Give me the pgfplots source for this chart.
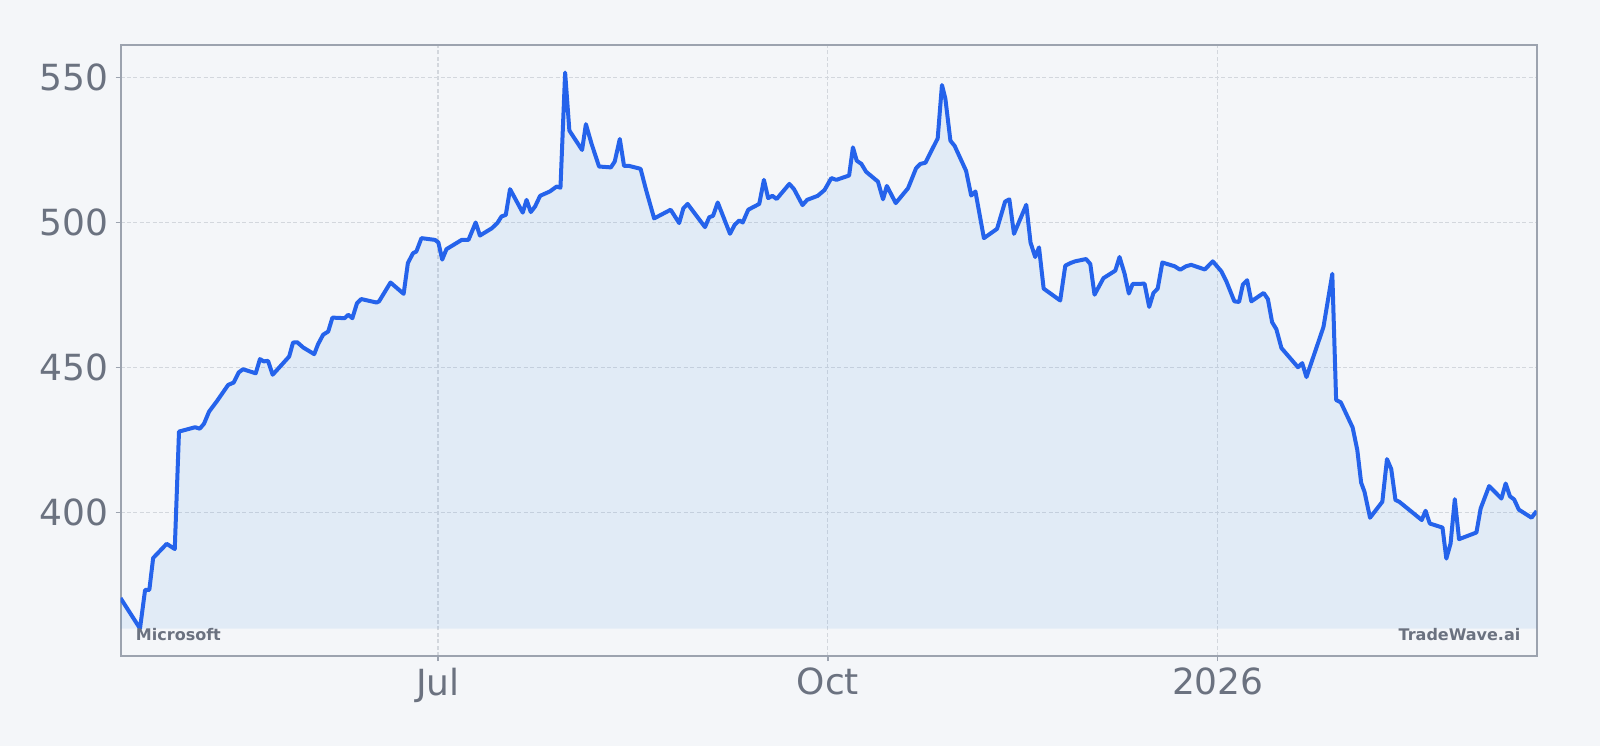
\documentclass[border=0pt]{standalone}
\usepackage{fontspec}
\setmainfont{DejaVu Sans}
\usepackage{pgfplots}
\usepackage{pgfplotstable}
\pgfplotsset{compat=1.18}
\definecolor{bg}{HTML}{F4F6F9}
\definecolor{linec}{HTML}{2563EB}
\definecolor{fillc}{HTML}{4092E5}
\definecolor{framec}{HTML}{9CA3AF}
\definecolor{gridc}{HTML}{D3D7DD}
\definecolor{tickc}{HTML}{6B7280}
\pgfplotstableread{
d v
-74.9 370.5
-70.3 360.0
-69.1 373.3
-68.1 373.3
-67.2 384.3
-64.0 389.2
-62.1 387.4
-61.1 427.9
-57.3 429.4
-56.2 428.9
-55.2 430.6
-54.0 434.8
-52.2 438.3
-49.5 444.0
-48.2 444.8
-47.0 448.3
-46.0 449.4
-43.0 448.0
-42.0 452.9
-41.1 452.1
-40.1 452.3
-39.0 447.5
-35.1 453.8
-34.2 458.6
-33.2 458.7
-31.8 456.9
-29.2 454.6
-28.3 458.0
-27.1 461.3
-25.9 462.4
-24.9 467.2
-22.0 467.0
-21.2 468.2
-20.2 467.0
-19.1 472.2
-18.1 473.6
-14.5 472.4
-13.9 472.8
-11.2 479.3
-8.1 475.4
-7.1 486.0
-5.9 489.4
-5.1 490.0
-3.9 494.6
-0.7 494.0
0.1 493.1
1.0 487.2
2.0 490.8
5.6 494.0
7.2 494.0
8.9 500.0
9.9 495.5
12.7 498.0
14.0 499.8
15.0 502.1
16.0 502.6
17.0 511.5
20.0 503.4
20.9 507.8
21.9 503.6
22.9 505.5
24.1 509.2
26.4 510.7
28.0 512.4
28.9 512.0
30.0 551.7
31.0 531.7
34.0 525.0
34.9 533.9
36.2 527.3
38.0 519.3
40.8 519.0
41.7 521.0
42.9 528.8
43.9 519.5
45.1 519.5
47.8 518.5
49.1 511.2
51.0 501.4
54.9 504.4
56.9 499.8
57.9 504.9
58.9 506.4
63.0 498.4
64.0 501.8
64.9 502.3
66.0 506.9
68.9 496.1
70.0 499.2
71.1 500.7
71.9 500.0
73.2 504.4
75.8 506.4
76.9 514.7
77.9 508.4
78.9 509.2
79.9 508.1
82.9 513.3
84.0 511.5
86.0 506.0
87.1 507.8
89.6 509.2
91.2 511.2
92.8 515.3
94.0 514.7
97.0 516.2
97.9 525.9
98.8 521.3
99.9 520.2
101.0 517.5
103.8 514.1
105.0 508.0
105.9 512.6
108.0 506.7
110.9 511.8
112.8 518.7
113.8 520.2
115.0 520.6
117.9 529.0
118.9 547.4
119.7 542.8
120.9 528.2
121.9 526.4
124.6 517.8
125.8 509.3
126.8 510.7
128.8 494.6
131.9 497.8
133.8 507.2
134.8 508.0
135.9 496.1
138.8 506.1
139.8 493.1
140.9 488.1
141.8 491.4
142.9 477.2
146.8 473.1
148.0 485.1
149.2 486.0
150.3 486.6
152.9 487.4
153.9 485.7
154.9 475.1
157.0 480.8
159.8 483.4
160.8 488.1
162.0 482.3
163.0 475.5
163.9 478.8
166.7 478.9
167.8 470.9
168.8 475.7
169.8 477.2
170.9 486.2
173.8 484.9
175.1 483.7
176.5 484.9
177.7 485.4
180.9 483.8
182.8 486.6
184.8 483.2
186.0 479.7
187.9 472.8
189.0 472.6
189.9 478.6
190.9 480.1
191.9 472.8
194.8 475.7
195.8 473.6
196.8 465.6
197.8 463.2
199.0 456.7
202.9 450.1
203.9 451.5
204.9 446.7
208.9 463.9
211.0 482.3
211.9 438.8
213.0 438.0
215.8 429.3
216.9 421.5
217.8 410.3
218.6 407.1
219.9 398.2
222.8 403.7
223.9 418.4
224.9 415.0
225.9 404.3
226.8 403.7
232.1 397.4
233.0 400.6
234.0 396.2
237.0 394.8
237.9 384.1
238.9 389.3
239.9 404.6
240.9 390.8
245.0 393.1
246.0 401.4
248.0 409.1
250.9 404.8
251.9 410.0
252.9 405.6
253.9 404.5
255.0 401.0
258.0 398.2
259.2 400.5
}\pricedata
\begin{document}
\begin{tikzpicture}
\fill[bg] (-60.25pt,-45pt) rectangle (739.7pt,328pt);
\begin{axis}[
  scale only axis, width=708pt, height=305.5pt,
  at={(0,0)}, anchor=south west,
  xmin=-74.9, xmax=259.2, ymin=350.5, ymax=561.2,
  xtick={0,92,184}, xticklabels={Jul,Oct,2026},
  ytick={400,450,500,550},
  axis line style={draw=framec, line width=1pt},
  grid=major,
  major grid style={draw=gridc, dash pattern=on 2pt off 1.2pt, line width=0.55pt},
  tick align=outside, major tick length=2.5pt,
  xtick pos=lower, ytick pos=left,
  tick style={draw=framec, line width=0.6pt},
  ticklabel style={font=\fontsize{18}{20}\selectfont, text=tickc},
  /pgf/number format/assume math mode=true,
  /pgf/number format/1000 sep={},
]
\addplot[fill=fillc, fill opacity=0.1, draw=none, forget plot] table[x=d, y=v] {\pricedata} -- (axis cs:259.2,360.0) -- (axis cs:-74.9,360.0) -- cycle;
\addplot[draw=linec, line width=2pt, line join=round, no markers] table[x=d, y=v] {\pricedata};
\node[anchor=base west, font=\bfseries\fontsize{8}{9}\selectfont, text=tickc] at (rel axis cs:0,0) [xshift=4.2pt, yshift=7.7pt] {Microsoft};
\node[anchor=base east, font=\bfseries\fontsize{8}{9}\selectfont, text=tickc] at (rel axis cs:1,0) [xshift=-4.6pt, yshift=7.7pt] {TradeWave.ai};
\end{axis}
\pgfresetboundingbox
\useasboundingbox (-60.25pt,-45pt) rectangle (739.7pt,328pt);
\end{tikzpicture}
\end{document}
